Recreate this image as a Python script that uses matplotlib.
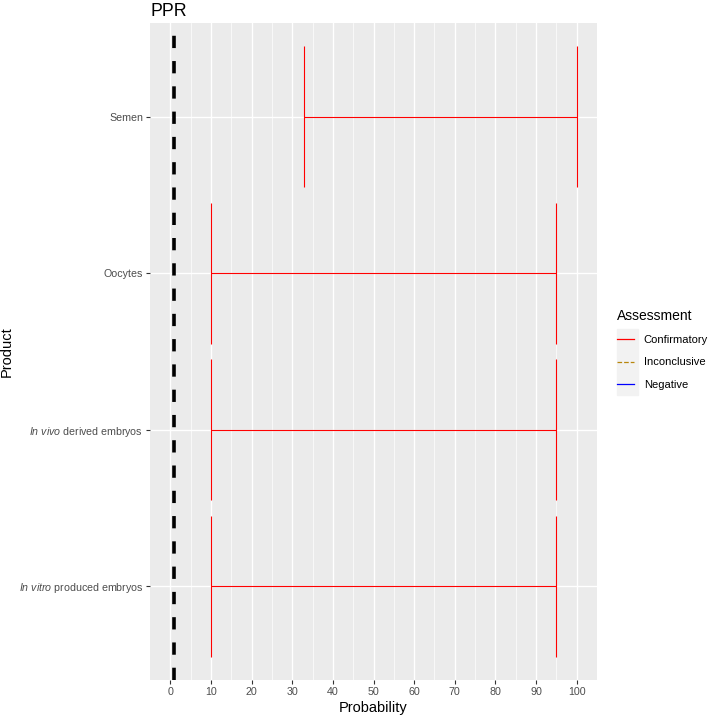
import numpy as np
import matplotlib
matplotlib.use("Agg")
import matplotlib.pyplot as plt
from matplotlib.lines import Line2D
from matplotlib.patches import Rectangle

plt.rcParams['font.family'] = ['Liberation Sans', 'DejaVu Sans']
plt.rcParams['mathtext.fontset'] = 'custom'
plt.rcParams['mathtext.rm'] = 'Liberation Sans'
plt.rcParams['mathtext.it'] = 'Liberation Sans:italic'

# data (bottom to top)
products = [r'$\mathit{In\ vitro}$ produced embryos',
            r'$\mathit{In\ vivo}$ derived embryos',
            'Oocytes',
            'Semen']
prob_low = [10, 10, 10, 33]
prob_high = [95, 95, 95, 100]
assessment = ['Confirmatory', 'Confirmatory', 'Confirmatory', 'Confirmatory']
threshold = 1

colors = {'Confirmatory': 'red', 'Inconclusive': '#B8860B', 'Negative': 'blue'}
styles = {'Confirmatory': '-', 'Inconclusive': '--', 'Negative': '-'}

fig = plt.figure(figsize=(7.09, 7.16), dpi=100)
ax = fig.add_axes([150 / 709, 1 - 680 / 716, 447 / 709, 657 / 716])
ax.set_facecolor('#EBEBEB')
for s in ax.spines.values():
    s.set_visible(False)

ypos = np.arange(1, len(products) + 1)
half = 0.45
for y, lo, hi, a in zip(ypos, prob_low, prob_high, assessment):
    ax.hlines(y, lo, hi, color=colors[a], lw=0.8, zorder=3)
    ax.vlines([lo, hi], y - half, y + half, color=colors[a], lw=0.8, zorder=3)

vl = ax.axvline(threshold, color='black', lw=2.6, zorder=4)
vl.set_dashes((3.4, 3.6))

ax.set_xlim(-5, 105)
ax.set_ylim(0.4, len(products) + 0.6)
ax.set_xticks(np.arange(0, 101, 10))
ax.set_xticks(np.arange(5, 100, 10), minor=True)
ax.set_yticks(ypos)
ax.set_yticklabels(products)
ax.grid(which='major', color='white', lw=1.0, zorder=0)
ax.grid(which='minor', axis='x', color='white', lw=0.5, zorder=0)
ax.set_axisbelow(True)
ax.tick_params(which='major', length=3, width=0.8, color='#333333',
               labelcolor='#4D4D4D', labelsize=7.7, pad=2)
ax.tick_params(which='minor', length=0)

ax.set_xlabel('Probability', fontsize=10.5, labelpad=3)
ax.set_ylabel('Product', fontsize=10.5)
ax.yaxis.set_label_coords(-0.305, 0.5)
ax.set_title('PPR', fontsize=12.8, loc='left', pad=5)

handles = [Line2D([], [], color=colors[k], ls=styles[k], lw=0.9) for k in colors]
leg = fig.legend(handles, list(colors), loc='upper left',
                 bbox_to_anchor=(617 / 709, 1 - 309 / 716), frameon=False,
                 fontsize=8, title='Assessment', title_fontsize=10,
                 handlelength=1.5, handletextpad=0.9, labelspacing=1.1,
                 borderpad=0, borderaxespad=0, alignment='left')
fig.add_artist(Rectangle((617 / 709, 1 - 395 / 716), 21 / 709, 66 / 716,
                         transform=fig.transFigure, color='#F2F2F2', zorder=-1))

fig.savefig('out.png', dpi=100)
